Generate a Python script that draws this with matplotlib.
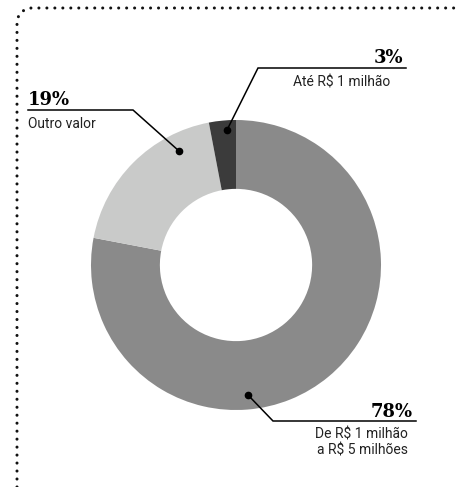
import numpy as np
import matplotlib.pyplot as plt
from matplotlib.lines import Line2D

W, H = 459, 487

shares = [78, 19, 3]
slice_colors = ['#8a8a8a', '#c9cac9', '#3b3b3b']
pct_labels = ['78%', '19%', '3%']
desc_labels = ['De R$ 1 milhão\na R$ 5 milhões', 'Outro valor', 'Até R$ 1 milhão']

SANS = ['Liberation Sans Narrow', 'Roboto', 'DejaVu Sans']
SERIF = ['DejaVu Serif']


def fy(y):
    # pixel row (from top) -> data y
    return H - y


fig = plt.figure(figsize=(W / 100, H / 100), dpi=100)
ax = fig.add_axes([0, 0, 1, 1])
ax.set_xlim(0, W)
ax.set_ylim(0, H)
ax.axis('off')

# donut
cx, cy, r = 236, 265, 145
ax.pie(shares, colors=slice_colors, startangle=90, counterclock=False,
       center=(cx, fy(cy)), radius=r, frame=True,
       wedgeprops=dict(width=r * 0.475, edgecolor='none'))
ax.set_xlim(0, W)
ax.set_ylim(0, H)
ax.set_aspect('equal')
ax.axis('off')

# dotted frame, rounded top-left corner
t = np.linspace(np.pi, np.pi / 2, 20)
rc = 15
corner_x = 17 + rc + rc * np.cos(t)
corner_y = 8 + rc - rc * np.sin(t)
fx = np.concatenate([[17], corner_x, [W]])
fyy = np.concatenate([[H], corner_y, [8]])
ax.add_line(Line2D(fx, fy(fyy), color='#111111', lw=2.2,
                   linestyle=(0, (0.01, 2.6)), dash_capstyle='round'))

# leader lines: (dot), (elbow), (end of horizontal)
leaders = [
    ((248, 395), (273, 421), (416, 421)),
    ((179, 151), (133, 110), (28, 110)),
    ((227, 130), (258, 68), (406, 68)),
]
for dot, elbow, end in leaders:
    ax.plot([dot[0], elbow[0], end[0]], [fy(dot[1]), fy(elbow[1]), fy(end[1])],
            color='black', lw=1.1, solid_joinstyle='miter')
    ax.plot(dot[0], fy(dot[1]), 'o', color='black', ms=4.5)

# labels
ax.text(413, fy(417), pct_labels[0], ha='right', va='baseline',
        fontsize=13, fontweight='bold', family=SERIF)
ax.text(408, fy(428), desc_labels[0], ha='right', va='top',
        fontsize=10, family=SANS, linespacing=1.15, color='#222222')

ax.text(28, fy(105), pct_labels[1], ha='left', va='baseline',
        fontsize=13, fontweight='bold', family=SERIF)
ax.text(28, fy(117), desc_labels[1], ha='left', va='top',
        fontsize=10, family=SANS, color='#222222')

ax.text(403, fy(63), pct_labels[2], ha='right', va='baseline',
        fontsize=13, fontweight='bold', family=SERIF)
ax.text(390, fy(75), desc_labels[2], ha='right', va='top',
        fontsize=10, family=SANS, color='#222222')

fig.savefig('out.png', dpi=100)
